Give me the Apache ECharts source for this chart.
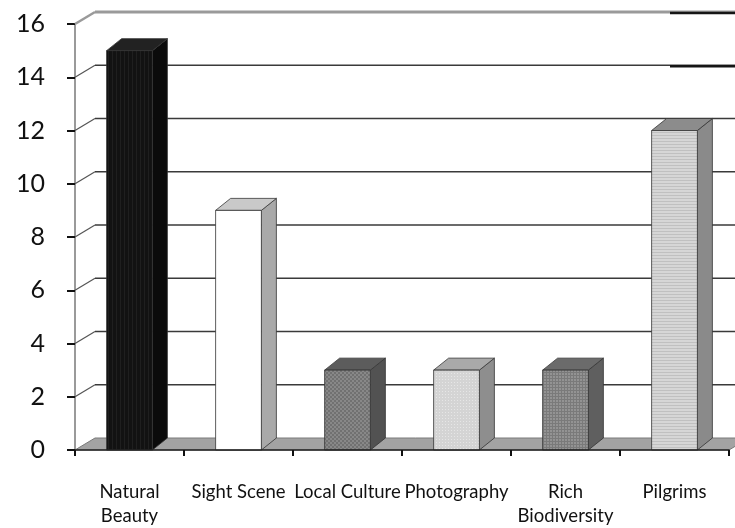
<!DOCTYPE html>
<html>
<head>
<meta charset="utf-8">
<script src="https://cdn.jsdelivr.net/npm/echarts@6/dist/echarts.min.js"></script>
<style>
  html, body { margin: 0; padding: 0; background: #fff; }
  #chart { width: 735px; height: 528px; }
</style>
</head>
<body>
<div id="chart"></div>
<script>
// Categories and counts
var categories = ['Natural\nBeauty', 'Sight Scene', 'Local Culture', 'Photography', 'Rich\nBiodiversity', 'Pilgrims'];
var counts = [15, 9, 3, 3, 3, 12];
// Value axis ticks
var yTicks = [0, 2, 4, 6, 8, 10, 12, 14, 16];

// Face shades for each column: [front, top, side]
var shades = [
  ['#151515', '#222222', '#0b0b0b'],
  ['#ffffff', '#c9c9c9', '#a9a9a9'],
  ['#7b7b7b', '#5c5c5c', '#525252'],
  ['#d8d8d8', '#a9a9a9', '#8e8e8e'],
  ['#8c8c8c', '#6b6b6b', '#5f5f5f'],
  ['#d0d0d0', '#8c8c8c', '#8a8a8a']
];

// Depth offsets of the 3D look
var WALL_DX = 20, WALL_DY = -12;
var BAR_DX = 15, BAR_DY = -12;

// Small tiled textures for the column fronts
function makeTile(size, draw) {
  var c = document.createElement('canvas');
  c.width = size; c.height = size;
  draw(c.getContext('2d'));
  return { image: c, repeat: 'repeat' };
}
var textures = [
  makeTile(4, function (g) { g.fillStyle = '#121212'; g.fillRect(0, 0, 4, 4); g.fillStyle = '#1f1f1f'; g.fillRect(0, 0, 1, 4); }),
  null,
  makeTile(4, function (g) { g.fillStyle = '#717171'; g.fillRect(0, 0, 4, 4); g.fillStyle = '#888'; g.fillRect(0, 0, 2, 2); g.fillRect(2, 2, 2, 2); }),
  makeTile(3, function (g) { g.fillStyle = '#d4d4d4'; g.fillRect(0, 0, 3, 3); g.fillStyle = '#e6e6e6'; g.fillRect(1, 1, 1, 1); }),
  makeTile(3, function (g) { g.fillStyle = '#939393'; g.fillRect(0, 0, 3, 3); g.fillStyle = '#7a7a7a'; g.fillRect(0, 0, 3, 1); g.fillRect(0, 0, 1, 3); }),
  makeTile(3, function (g) { g.fillStyle = '#d6d6d6'; g.fillRect(0, 0, 3, 3); g.fillStyle = '#c0c0c0'; g.fillRect(0, 0, 3, 1); })
];

var chart = echarts.init(document.getElementById('chart'));

function renderWall(params, api) {
  var cs = params.coordSys;
  var v = api.value(1);
  var y = api.coord([0, v])[1];
  var x0 = cs.x, x1 = cs.x + cs.width;
  var children = [];
  if (v === 0) {
    // floor
    children.push({
      type: 'polygon',
      shape: { points: [[x0, y], [x1, y], [x1 + WALL_DX, y + WALL_DY], [x0 + WALL_DX, y + WALL_DY]] },
      style: { fill: '#a3a3a3', stroke: '#7a7a7a', lineWidth: 1 }
    });
    return { type: 'group', children: children };
  }
  var top = v === yTicks[yTicks.length - 1];
  // left wall diagonal
  children.push({
    type: 'line',
    shape: { x1: x0, y1: y, x2: x0 + WALL_DX, y2: y + WALL_DY },
    style: { stroke: top ? '#9a9a9a' : '#555', lineWidth: top ? 2.5 : 1.2 }
  });
  // back wall grid line
  children.push({
    type: 'line',
    shape: { x1: x0 + WALL_DX, y1: y + WALL_DY, x2: x1 + WALL_DX, y2: y + WALL_DY },
    style: { stroke: top ? '#9a9a9a' : '#3a3a3a', lineWidth: top ? 3 : 1.3 }
  });
  if (v >= 14) {
    children.push({
      type: 'line',
      shape: { x1: x1 - 59, y1: y + WALL_DY + 1, x2: x1 + WALL_DX, y2: y + WALL_DY + 1 },
      style: { stroke: '#151515', lineWidth: 2.5 }
    });
  }
  return { type: 'group', children: children };
}

function renderBar(params, api) {
  var idx = api.value(0);
  var val = api.value(1);
  var t = api.coord([idx, val]);
  var b = api.coord([idx, 0]);
  var w = api.size([1, 0])[0] * 0.42;
  var xl = t[0] - w / 2, xr = t[0] + w / 2;
  var yt = t[1], yb = b[1];
  var s = shades[idx];
  var edge = { stroke: '#333', lineWidth: 0.8 };
  return {
    type: 'group',
    children: [
      {
        type: 'polygon',
        shape: { points: [[xr, yt], [xr + BAR_DX, yt + BAR_DY], [xr + BAR_DX, yb + BAR_DY], [xr, yb]] },
        style: Object.assign({ fill: s[2] }, edge)
      },
      {
        type: 'polygon',
        shape: { points: [[xl, yt], [xl + BAR_DX, yt + BAR_DY], [xr + BAR_DX, yt + BAR_DY], [xr, yt]] },
        style: Object.assign({ fill: s[1] }, edge)
      },
      {
        type: 'rect',
        shape: { x: xl, y: yt, width: w, height: yb - yt },
        style: Object.assign({ fill: textures[idx] || s[0] }, edge)
      }
    ]
  };
}

chart.setOption({
  animation: false,
  backgroundColor: '#ffffff',
  grid: { left: 75, right: 6, top: 24, bottom: 71, containLabel: false },
  xAxis: {
    type: 'category',
    data: categories,
    boundaryGap: true,
    axisLine: { lineStyle: { color: '#222', width: 1.5 } },
    axisTick: { show: true, length: 6, lineStyle: { color: '#111', width: 2 } },
    axisLabel: {
      interval: 0,
      margin: 30,
      fontFamily: 'Lato',
      fontSize: 18.5,
      lineHeight: 24,
      color: '#111',
      align: 'center'
    },
    splitLine: { show: false },
    z: 5
  },
  yAxis: {
    type: 'value',
    min: 0,
    max: 16,
    interval: 2,
    axisLine: { show: true, lineStyle: { color: '#9a9a9a', width: 2 } },
    axisTick: { show: true, length: 8, lineStyle: { color: '#111', width: 2 } },
    axisLabel: { margin: 30, fontFamily: 'Lato', fontSize: 25, color: '#111' },
    splitLine: { show: false }
  },
  series: [
    {
      type: 'custom',
      renderItem: renderWall,
      data: yTicks.map(function (v) { return [0, v]; }),
      encode: { x: 0, y: 1 },
      z: 1,
      silent: true
    },
    {
      type: 'custom',
      renderItem: renderBar,
      data: counts.map(function (v, i) { return [i, v]; }),
      encode: { x: 0, y: 1 },
      z: 3
    }
  ]
});
</script>
</body>
</html>
